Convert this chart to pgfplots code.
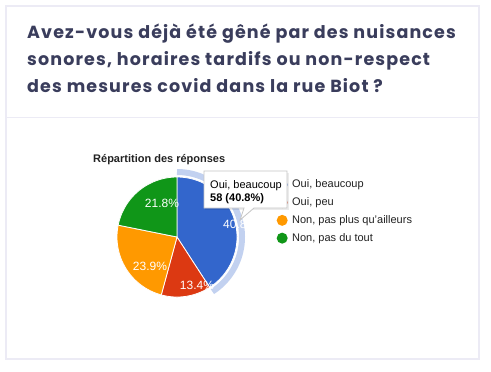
\documentclass[border=0pt]{standalone}
\usepackage{pgfplots}
\pgfplotsset{compat=1.18}
\usepackage{pgfplotstable}
\usepackage{fontspec}
\setmainfont{Liberation Sans}
\newfontfamily\titlefont[LetterSpace=6.5]{Poppins}
\definecolor{gblue}{HTML}{3366CC}
\definecolor{gred}{HTML}{DC3912}
\definecolor{gorange}{HTML}{FF9900}
\definecolor{ggreen}{HTML}{109618}
\definecolor{ringblue}{HTML}{C2D1F0}
\definecolor{titlecol}{RGB}{58,61,92}
\definecolor{cardline}{HTML}{ECEBF5}
\definecolor{txt}{HTML}{222222}

\pgfplotstableread{
count pct
58 40.8
19 13.4
34 23.9
31 21.8
}\datatable
\pgfplotstablegetelem{0}{count}\of\datatable\let\cA\pgfplotsretval
\pgfplotstablegetelem{1}{count}\of\datatable\let\cB\pgfplotsretval
\pgfplotstablegetelem{2}{count}\of\datatable\let\cC\pgfplotsretval
\pgfplotstablegetelem{3}{count}\of\datatable\let\cD\pgfplotsretval
\pgfmathsetmacro\tot{\cA+\cB+\cC+\cD}
\pgfmathsetmacro\aA{360*(\cA/\tot)}
\pgfmathsetmacro\aB{\aA+360*(\cB/\tot)}
\pgfmathsetmacro\aC{\aB+360*(\cC/\tot)}

\begin{document}
\begin{tikzpicture}[x=1bp,y=-1bp]
\fill[white] (0,0) rectangle (491,371);
% card
\draw[cardline, line width=2bp, fill=white] (6,6) rectangle (479,359);
\draw[cardline, line width=1bp] (6,117) -- (479,117);
% title
\begin{scope}[every node/.style={anchor=base west, inner sep=0, text=titlecol, font=\titlefont\bfseries\fontsize{17.5bp}{20bp}\selectfont}]
\node at (27,38) {Avez-vous déjà été gêné par des nuisances};
\node at (27,65) {sonores, horaires tardifs ou non-respect};
\node at (27,92) {des mesures covid dans la rue Biot ?};
\end{scope}
% chart title
\node[anchor=base west, inner sep=0, text=txt, font=\bfseries\fontsize{11bp}{13bp}\selectfont] at (93,162) {Répartition des réponses};
\begin{axis}[
  at={(177bp,-237bp)}, anchor=center,
  scale only axis, width=120bp, height=120bp,
  xmin=-1, xmax=1, ymin=-1, ymax=1,
  hide axis, clip=false,
  legend style={at={(rel axis cs:1.329,0.983)}, anchor=north west, draw=none, fill=none,
    inner sep=0pt, row sep=6.8bp, column sep=4.5bp,
    nodes={inner sep=0pt, text height=8bp, text depth=2bp, font=\fontsize{11bp}{13bp}\selectfont, text=txt}},
  legend cell align=left,
  legend image code/.code={\path[draw=none,#1] (5.5bp,0bp) circle (5.5bp);},
]
\addplot[fill=gblue, draw=white, line width=0.8bp, domain=0:\aA, samples=80, variable=\t] ({sin(t)},{cos(t)}) -- (axis cs:0,0) -- cycle;
\addplot[fill=gred, draw=white, line width=0.8bp, domain=\aA:\aB, samples=40, variable=\t] ({sin(t)},{cos(t)}) -- (axis cs:0,0) -- cycle;
\addplot[fill=gorange, draw=white, line width=0.8bp, domain=\aB:\aC, samples=60, variable=\t] ({sin(t)},{cos(t)}) -- (axis cs:0,0) -- cycle;
\addplot[fill=ggreen, draw=white, line width=0.8bp, domain=\aC:360, samples=60, variable=\t] ({sin(t)},{cos(t)}) -- (axis cs:0,0) -- cycle;
\addplot[draw=ringblue, line width=6bp, domain=0:\aA, samples=80, variable=\t] ({1.0833*sin(t)},{1.0833*cos(t)});
\addlegendimage{fill=gblue}
\addlegendentry{Oui, beaucoup}
\addlegendimage{fill=gred}
\addlegendentry{Oui, peu}
\addlegendimage{fill=gorange}
\addlegendentry{Non, pas plus qu'ailleurs}
\addlegendimage{fill=ggreen}
\addlegendentry{Non, pas du tout}
\end{axis}
% slice labels
\begin{scope}[every node/.style={text=white, font=\fontsize{12bp}{14bp}\selectfont, inner sep=0}]
\node at (162,203) {21.8\%};
\node at (150,266) {23.9\%};
\node at (197,285) {13.4\%};
\node[anchor=base west] at (223,228) {40.8\%};
\end{scope}
% tooltip
\fill[black, opacity=0.08] (205,173) rectangle (289,210);
\draw[draw=gray!45, fill=white, line width=0.8bp] (204,171) -- (287,171) -- (287,208) -- (254,208) -- (240,220) -- (244,208) -- (204,208) -- cycle;
\node[anchor=base west, inner sep=0, text=black, font=\fontsize{11bp}{13bp}\selectfont] at (210,188) {Oui, beaucoup};
\node[anchor=base west, inner sep=0, text=black, font=\bfseries\fontsize{11bp}{13bp}\selectfont] at (210,201) {58 (40.8\%)};
\pgfresetboundingbox
\path[use as bounding box] (0,0) rectangle (491,371);
\end{tikzpicture}
\end{document}
